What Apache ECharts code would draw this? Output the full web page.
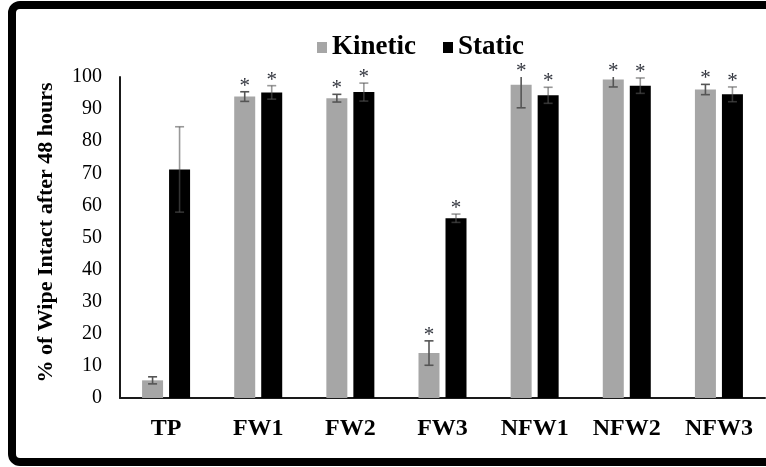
<!DOCTYPE html>
<html>
<head>
<meta charset="utf-8">
<script src="https://cdn.jsdelivr.net/npm/echarts@6/dist/echarts.min.js"></script>
<style>
  html, body { margin: 0; padding: 0; background: #fff; }
  #chart { width: 766px; height: 467px; }
</style>
</head>
<body>
<div id="chart"></div>
<script>
// Wipe integrity after 48 hours: mean % intact with error bars, per wipe type
const categories = ['TP', 'FW1', 'FW2', 'FW3', 'NFW1', 'NFW2', 'NFW3'];
const kineticMean = [5.5, 93.9, 93.4, 14.0, 97.6, 99.2, 96.1];
const kineticErr  = [1.1, 1.5, 1.2, 3.8, 7.2, 2.3, 1.6];
const staticMean  = [71.2, 95.2, 95.3, 56.0, 94.3, 97.3, 94.6];
const staticErr   = [13.3, 2.1, 2.8, 1.3, 2.5, 2.4, 2.3];
// significance markers (*) shown above each bar
const kineticSig = [false, true, true, true, true, true, true];
const staticSig  = [false, true, true, true, true, true, true];
const yMin = 0, yMax = 100, yStep = 10;

const SERIF = '"Liberation Serif", "Times New Roman", serif';
const BAR_W = 21;
const BAR_GAP = 6;
const SHIFT = (BAR_W + BAR_GAP) / 2;

function errorBars(means, errs, sig, dx, color) {
  return {
    type: 'custom',
    z: 5,
    silent: true,
    data: means.map((m, i) => [i, m, errs[i], sig[i] ? 1 : 0]),
    renderItem: function (params, api) {
      const i = api.value(0), m = api.value(1), e = api.value(2);
      const top = api.coord([i, m + e]);
      const bot = api.coord([i, Math.max(m - e, yMin)]);
      const limit = api.coord([i, yMax])[1];
      const x = top[0] + dx;
      const yTop = Math.max(top[1], limit);
      const yBot = bot[1];
      const capTop = top[1] >= limit;
      const children = [
        { type: 'line', shape: { x1: x, y1: yTop, x2: x, y2: yBot },
          style: { stroke: color, lineWidth: 1.6 } },
        { type: 'line', shape: { x1: x - 4.5, y1: yBot, x2: x + 4.5, y2: yBot },
          style: { stroke: color, lineWidth: 1.6 } }
      ];
      if (capTop) {
        children.push({ type: 'line', shape: { x1: x - 4.5, y1: yTop, x2: x + 4.5, y2: yTop },
          style: { stroke: color, lineWidth: 1.6 } });
      }
      if (api.value(3)) {
        children.push({ type: 'text',
          style: { x: x, y: yTop + 5, text: '*', fill: '#33363f',
                   font: '21px ' + SERIF, align: 'center', verticalAlign: 'bottom' } });
      }
      return { type: 'group', children: children };
    }
  };
}

const chart = echarts.init(document.getElementById('chart'), null, { renderer: 'canvas' });
chart.setOption({
  animation: false,
  backgroundColor: '#ffffff',
  textStyle: { fontFamily: SERIF },
  graphic: [{
    type: 'rect', z: 100, silent: true,
    shape: { x: 12, y: 5, width: 820, height: 457, r: 8 },
    style: { fill: 'none', stroke: '#000', lineWidth: 8 }
  }],
  legend: {
    top: 29, left: 312,
    itemWidth: 10, itemHeight: 11, itemGap: 27,
    icon: 'rect',
    textStyle: { fontFamily: SERIF, fontWeight: 'bold', fontSize: 27, color: '#000' },
    data: ['Kinetic', 'Static']
  },
  grid: { left: 120, right: 1, top: 77, bottom: 69, containLabel: false },
  xAxis: {
    type: 'category',
    data: categories,
    axisLine: { lineStyle: { color: '#1a1a1a', width: 2 } },
    axisTick: { show: false },
    axisLabel: { fontFamily: SERIF, fontWeight: 'bold', fontSize: 24, color: '#000', margin: 19 }
  },
  yAxis: {
    type: 'value',
    min: yMin, max: yMax, interval: yStep,
    name: '% of Wipe Intact after 48 hours',
    nameLocation: 'middle',
    nameGap: 63,
    nameTextStyle: { fontFamily: SERIF, fontWeight: 'bold', fontSize: 22, color: '#000', padding: [0, 0, 0, 10] },
    axisLine: { show: true, lineStyle: { color: '#1a1a1a', width: 2 } },
    axisTick: { show: false },
    splitLine: { show: false },
    axisLabel: { fontFamily: SERIF, fontSize: 20, color: '#000', margin: 18 }
  },
  series: [
    { name: 'Kinetic', type: 'bar', data: kineticMean, barWidth: BAR_W,
      barGap: (BAR_GAP / BAR_W * 100).toFixed(1) + '%',
      itemStyle: { color: '#a6a6a6' } },
    { name: 'Static', type: 'bar', data: staticMean, barWidth: BAR_W,
      itemStyle: { color: '#000000' } },
    errorBars(kineticMean, kineticErr, kineticSig, -SHIFT, '#555555'),
    errorBars(staticMean, staticErr, staticSig, SHIFT, 'rgba(85,85,85,0.6)')
  ]
});
</script>
</body>
</html>
